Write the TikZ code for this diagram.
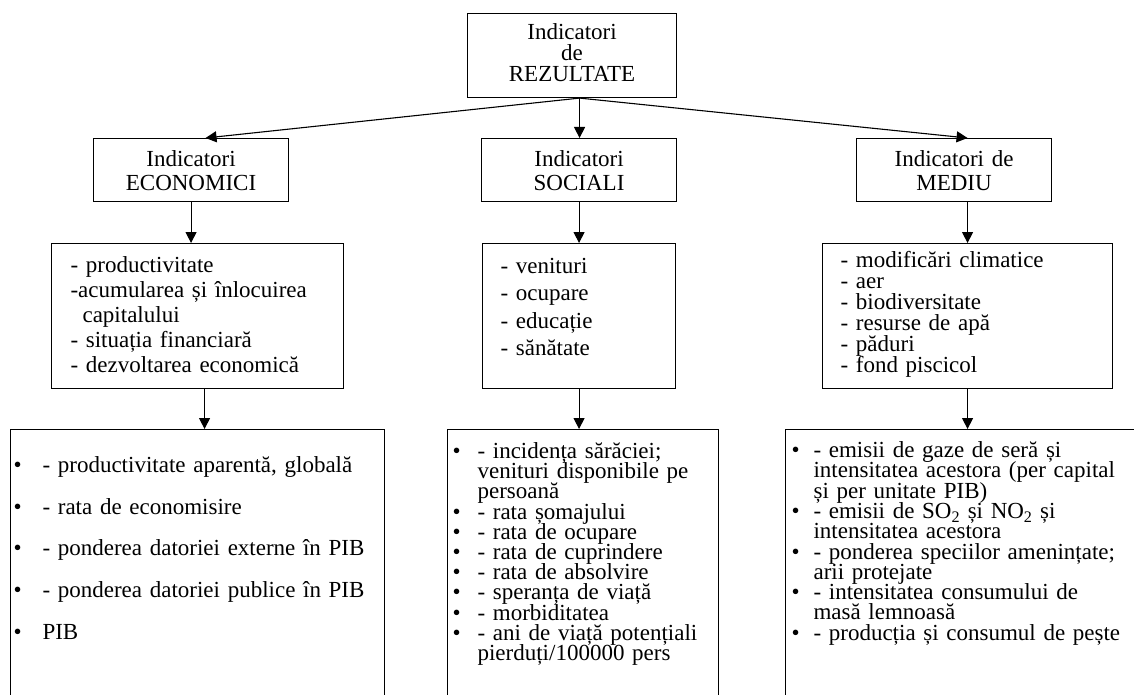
\documentclass[tikz,border=0pt]{standalone}
\usepackage{fontspec}
\setmainfont{Liberation Serif}
\usetikzlibrary{arrows.meta}
\newcommand{\myfs}[1]{\fontsize{23}{#1}\selectfont\lineskiplimit=-100pt\lineskip=0pt\relax}
\newcommand{\mybul}[1]{\makebox[#1][l]{\textbullet}}
\begin{document}
\begin{tikzpicture}[x=1pt,y=-1pt,
  frame/.style={draw, line width=1.1pt, inner ysep=0pt, anchor=north west},
  arr/.style={line width=1.1pt, -{Triangle[length=11pt,width=11pt]}}]
\useasboundingbox (0,0) rectangle (1134,695);
\clip (0,0) rectangle (1134,695);
% level 1
\node[frame, inner xsep=0pt, text width=209pt, align=center, text height=26pt, text depth=58pt,
  font=\myfs{21}, execute at begin node={\myfs{21}}] (top) at (467,13) {Indicatori\\de\\REZULTATE};
% level 2
\tikzset{lvtwo/.style={frame, inner xsep=0pt, text width=195pt, align=center, text height=28pt, text depth=35pt,
  font=\myfs{24}, execute at begin node={\myfs{24}}}}
\node[lvtwo] (eco) at (93,138) {Indicatori\\ECONOMICI};
\node[lvtwo] (soc) at (481,138) {Indicatori\\SOCIALI};
\node[lvtwo] (med) at (856,138) {Indicatori de\\MEDIU};
% level 3
\node[frame, inner xsep=19pt, text width=254pt, align=left, text height=29pt, text depth=116pt,
  font=\myfs{25}, execute at begin node={\myfs{25}}] (el3) at (51,243)
  {- productivitate\\-acumularea și înlocuirea\\\hspace*{12pt}capitalului\\- situația financiară\\- dezvoltarea economică};
\node[frame, inner xsep=18pt, text width=157pt, align=left, text height=30pt, text depth=115pt,
  font=\myfs{27.3}, execute at begin node={\myfs{27.3}}] (sl3) at (482,243)
  {- venituri\\- ocupare\\- educație\\- sănătate};
\node[frame, inner xsep=18pt, text width=254pt, align=left, text height=24pt, text depth=121pt,
  font=\myfs{21}, execute at begin node={\myfs{21}}] (ml3) at (822,243)
  {- modificări climatice\\- aer\\- biodiversitate\\- resurse de apă\\- păduri\\- fond piscicol};
% level 4
\node[frame, inner xsep=3pt, text width=368pt, align=left, text height=43pt, text depth=248pt,
  font=\myfs{41.7}, execute at begin node={\myfs{41.7}}] (eb) at (10,429)
  {\mybul{29pt}- productivitate aparentă, globală\\
   \mybul{29pt}- rata de economisire\\
   \mybul{29pt}- ponderea datoriei externe în PIB\\
   \mybul{29pt}- ponderea datoriei publice în PIB\\
   \mybul{29pt}PIB};
\node[frame, inner xsep=5pt, text width=261pt, align=left, text height=29pt, text depth=262pt,
  font=\myfs{20.2}, execute at begin node={\myfs{20.2}}] (sb) at (447,429)
  {\mybul{25pt}- incidența sărăciei;\\
   \hspace*{25pt}venituri disponibile pe\\
   \hspace*{25pt}persoană\\
   \mybul{25pt}- rata șomajului\\
   \mybul{25pt}- rata de ocupare\\
   \mybul{25pt}- rata de cuprindere\\
   \mybul{25pt}- rata de absolvire\\
   \mybul{25pt}- speranța de viață\\
   \mybul{25pt}- morbiditatea\\
   \mybul{25pt}- ani de viață potențiali\\
   \hspace*{25pt}pierduți/100000 pers};
\node[frame, inner xsep=6pt, text width=363pt, align=left, text height=28pt, text depth=263pt,
  font=\myfs{20.3}, execute at begin node={\myfs{20.3}}] (mb) at (785,429)
  {\mybul{22pt}- emisii de gaze de seră și\\
   \hspace*{22pt}intensitatea acestora (per capital\\
   \hspace*{22pt}și per unitate PIB)\\
   \mybul{22pt}- emisii de SO\textsubscript{2} și NO\textsubscript{2} și\\
   \hspace*{22pt}intensitatea acestora\\
   \mybul{22pt}- ponderea speciilor amenințate;\\
   \hspace*{22pt}arii protejate\\
   \mybul{22pt}- intensitatea consumului de\\
   \hspace*{22pt}masă lemnoasă\\
   \mybul{22pt}- producția și consumul de pește};
% connectors
\coordinate (t0) at ([xshift=7.5pt]top.south);
\draw[arr] (t0) -- ([xshift=14.5pt]eco.north);
\draw[arr] (t0) -- (t0 |- soc.north);
\draw[arr] (t0) -- ([xshift=13.5pt]med.north);
\draw[arr] (eco.south) -- (eco.south |- el3.north);
\draw[arr] (soc.south) -- (soc.south |- sl3.north);
\coordinate (m1) at ([xshift=13.5pt]med.south);
\draw[arr] (m1) -- (m1 |- ml3.north);
\coordinate (e2) at ([xshift=7pt]el3.south);
\draw[arr] (e2) -- (e2 |- eb.north);
\draw[arr] (sl3.south) -- (sl3.south |- sb.north);
\draw[arr] (ml3.south) -- (ml3.south |- mb.north);
\end{tikzpicture}
\end{document}
